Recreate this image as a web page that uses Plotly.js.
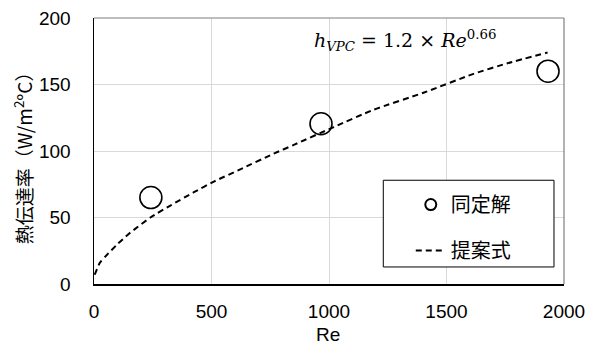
<!DOCTYPE html>
<html>
<head>
<meta charset="utf-8">
<script src="https://cdn.plot.ly/plotly-3.0.1.min.js"></script>
<style>html,body{margin:0;padding:0;background:#fff;}#chart{width:594px;height:347px;}</style>
</head>
<body>
<div id="chart"></div>
<script>
// identified solution points (同定解)
const reIdent = [242, 966, 1932];
const hIdent = [65, 120.5, 160];
// proposed correlation curve (提案式)
const reCurve = [3, 25, 50, 100, 150, 240, 325, 425, 510, 620, 765, 855, 1020, 1190, 1405, 1615, 1760, 1930];
const hCurve = [7, 16, 21, 30, 38, 50, 59, 69, 77, 86, 98, 105, 118, 131, 144, 158, 166, 174];
const xTicks = [0, 500, 1000, 1500, 2000];
const yTicks = [0, 50, 100, 150, 200];
const seriesNames = ['同定解', '提案式'];

const FONT = 'Liberation Sans, Arial, "Noto Sans CJK JP", sans-serif';

const traces = [
  { // legend entry for markers
    x: [null], y: [null], type: 'scatter', mode: 'markers', name: seriesNames[0], legendgroup: 'a',
    marker: { symbol: 'circle-open', size: 11, color: '#000', line: { width: 2, color: '#000' } },
    hoverinfo: 'skip'
  },
  {
    x: reCurve, y: hCurve, type: 'scatter', mode: 'lines', name: seriesNames[1], legendgroup: 'b',
    line: { color: '#000', width: 2, dash: '6px,4px', shape: 'spline', smoothing: 0.6 }
  },
  {
    x: reIdent, y: hIdent, type: 'scatter', mode: 'markers', name: seriesNames[0], showlegend: false, legendgroup: 'a',
    marker: { symbol: 'circle-open', size: 22, color: '#000', line: { width: 1.6, color: '#000' } }
  }
];

const layout = {
  width: 594, height: 347,
  margin: { l: 94, r: 30, t: 18, b: 63, pad: 0 },
  paper_bgcolor: '#fff', plot_bgcolor: '#fff',
  font: { family: FONT, size: 19, color: '#000' },
  showlegend: true,
  legend: {
    x: 0.674, y: 0.372, xanchor: 'left', yanchor: 'top',
    bgcolor: 'rgba(0,0,0,0)', borderwidth: 0,
    font: { family: FONT, size: 20, color: '#000' },
    tracegroupgap: 17, itemwidth: 30
  },
  xaxis: {
    range: [0, 2000], tickvals: xTicks, ticktext: xTicks.map(String),
    showgrid: true, gridcolor: '#d9d9d9', gridwidth: 1,
    showline: true, linecolor: '#000', linewidth: 1.5,
    zeroline: false, ticks: '', ticklabelstandoff: 10,
    tickfont: { size: 19 }
  },
  yaxis: {
    range: [0, 200], tickvals: yTicks, ticktext: yTicks.map(String),
    showgrid: true, gridcolor: '#d9d9d9', gridwidth: 1,
    showline: true, linecolor: '#000', linewidth: 1.5,
    zeroline: false, ticks: '', ticklabelstandoff: 18,
    tickfont: { size: 19 }
  },
  shapes: [
    { type: 'line', xref: 'paper', yref: 'paper', x0: 0, x1: 1, y0: 1, y1: 1, line: { color: '#7f7f7f', width: 1.2 }, layer: 'above' },
    { type: 'line', xref: 'paper', yref: 'paper', x0: 1, x1: 1, y0: 0, y1: 1, line: { color: '#7f7f7f', width: 1.2 }, layer: 'above' },
    { type: 'rect', xref: 'paper', yref: 'paper', x0: 0.6155, x1: 0.9787, y0: 0.064, y1: 0.39,
      fillcolor: '#fff', line: { color: '#000', width: 1 }, layer: 'above' }
  ],
  annotations: [
    { xref: 'paper', yref: 'paper', x: 0.497, y: -0.19, xanchor: 'center', yanchor: 'middle',
      text: 'Re', showarrow: false, font: { family: FONT, size: 19 } },
    { xref: 'paper', yref: 'paper', x: -0.152, y: 0.49, xanchor: 'center', yanchor: 'middle',
      text: '熱伝達率（W/m<sup>2</sup>°C）', textangle: -90, showarrow: false,
      font: { family: '"Noto Sans CJK JP", Liberation Sans, sans-serif', size: 19 } },
    { xref: 'paper', yref: 'paper', x: 0.662, y: 0.915, xanchor: 'center', yanchor: 'middle',
      text: '<i>h</i><sub><i>VPC</i></sub> = 1.2 × <i>Re</i><sup>0.66</sup>', showarrow: false,
      font: { family: 'DejaVu Serif, Liberation Serif, serif', size: 19 } }
  ]
};

Plotly.newPlot('chart', traces, layout, { displayModeBar: false, staticPlot: true });
</script>
</body>
</html>
